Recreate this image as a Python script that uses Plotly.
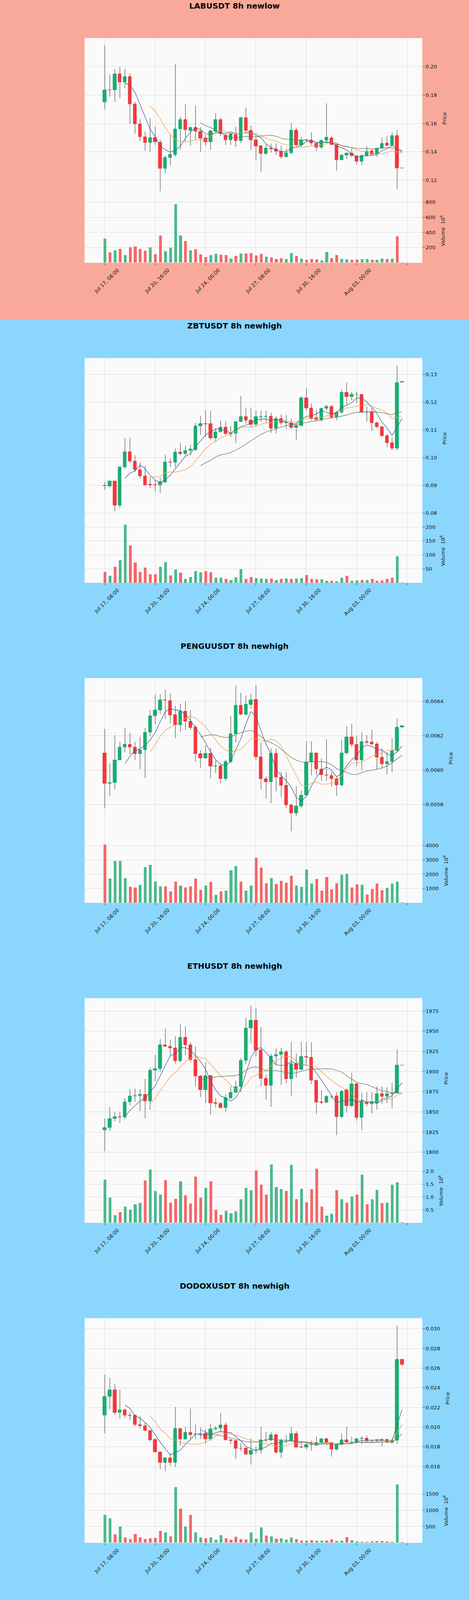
import plotly.graph_objects as go
import pandas as pd

# ---------------- data ----------------
x_tick_pos = [0, 10, 20, 30, 40, 50]
x_tick_labels = ["Jul 17, 08:00", "Jul 20, 16:00", "Jul 24, 00:00", "Jul 27, 08:00",
                 "Jul 30, 16:00", "Aug 03, 00:00"]
x_extra_tick = [60]

titles = ["LABUSDT 8h newlow", "ZBTUSDT 8h newhigh", "PENGUUSDT 8h newhigh",
          "ETHUSDT 8h newhigh", "DODOXUSDT 8h newhigh"]

lab_open = [0.1750, 0.1836, 0.1835, 0.1948, 0.1890, 0.1928, 0.1737, 0.1596, 0.1504, 0.1463,
            0.1500, 0.1467, 0.1283, 0.1359, 0.1378, 0.1559, 0.1626, 0.1550, 0.1570, 0.1543,
            0.1496, 0.1470, 0.1543, 0.1626, 0.1517, 0.1484, 0.1522, 0.1478, 0.1641, 0.1548,
            0.1482, 0.1442, 0.1387, 0.1425, 0.1419, 0.1404, 0.1364, 0.1393, 0.1552, 0.1447,
            0.1484, 0.1479, 0.1458, 0.1431, 0.1479, 0.1496, 0.1449, 0.1343, 0.1375, 0.1390,
            0.1369, 0.1332, 0.1373, 0.1407, 0.1381, 0.1425, 0.1462, 0.1445, 0.1512, 0.1286]
lab_high = [0.2150, 0.1943, 0.1983, 0.2000, 0.1985, 0.1952, 0.1752, 0.1630, 0.1543, 0.1639,
            0.1578, 0.1487, 0.1374, 0.1517, 0.2017, 0.1648, 0.1735, 0.1574, 0.1726, 0.1574,
            0.1517, 0.1557, 0.1672, 0.1643, 0.1526, 0.1530, 0.1578, 0.1648, 0.1712, 0.1585,
            0.1505, 0.1446, 0.1453, 0.1460, 0.1460, 0.1442, 0.1421, 0.1604, 0.1572, 0.1505,
            0.1492, 0.1537, 0.1462, 0.1486, 0.1742, 0.1511, 0.1449, 0.1384, 0.1397, 0.1423,
            0.1379, 0.1384, 0.1440, 0.1421, 0.1425, 0.1500, 0.1512, 0.1537, 0.1553, 0.1287]
lab_low = [0.1700, 0.1789, 0.1752, 0.1778, 0.1848, 0.1596, 0.1528, 0.1474, 0.1409, 0.1400,
           0.1448, 0.1122, 0.1248, 0.1304, 0.1368, 0.1417, 0.1474, 0.1443, 0.1483, 0.1400,
           0.1443, 0.1413, 0.1530, 0.1509, 0.1448, 0.1448, 0.1435, 0.1461, 0.1539, 0.1410,
           0.1341, 0.1259, 0.1379, 0.1395, 0.1377, 0.1352, 0.1360, 0.1380, 0.1437, 0.1433,
           0.1474, 0.1447, 0.1404, 0.1422, 0.1462, 0.1445, 0.1267, 0.1341, 0.1349, 0.1362,
           0.1314, 0.1307, 0.1364, 0.1378, 0.1364, 0.1421, 0.1442, 0.1445, 0.1138, 0.1285]
lab_close = [0.1835, 0.1834, 0.1948, 0.1890, 0.1928, 0.1737, 0.1596, 0.1504, 0.1463, 0.1500,
             0.1470, 0.1281, 0.1359, 0.1380, 0.1559, 0.1626, 0.1554, 0.1571, 0.1543, 0.1493,
             0.1470, 0.1545, 0.1626, 0.1526, 0.1484, 0.1526, 0.1478, 0.1641, 0.1548, 0.1482,
             0.1440, 0.1387, 0.1425, 0.1421, 0.1404, 0.1364, 0.1393, 0.1552, 0.1447, 0.1483,
             0.1482, 0.1462, 0.1430, 0.1479, 0.1501, 0.1449, 0.1343, 0.1375, 0.1390, 0.1373,
             0.1332, 0.1373, 0.1404, 0.1381, 0.1425, 0.1459, 0.1445, 0.1512, 0.1286, 0.1286]
lab_volume = [316, 135, 162, 181, 100, 203, 211, 181, 154, 203,
              108, 359, 149, 197, 768, 356, 283, 162, 176, 108,
              76, 100, 114, 103, 100, 55, 87, 122, 122, 127,
              95, 117, 81, 68, 47, 60, 47, 127, 90, 55,
              36, 49, 41, 28, 143, 60, 100, 47, 41, 36,
              41, 49, 47, 36, 36, 55, 47, 55, 345, 2]

zbt_open = [0.0899, 0.0896, 0.0915, 0.0828, 0.0966, 0.1021, 0.0987, 0.0956, 0.0933, 0.0903,
            0.0902, 0.0900, 0.0911, 0.0984, 0.0982, 0.1019, 0.1013, 0.1024, 0.1028, 0.1113,
            0.1122, 0.1122, 0.1070, 0.1092, 0.1109, 0.1084, 0.1086, 0.1129, 0.1147, 0.1134,
            0.1119, 0.1146, 0.1147, 0.1149, 0.1105, 0.1140, 0.1124, 0.1125, 0.1107, 0.1114,
            0.1215, 0.1178, 0.1143, 0.1136, 0.1177, 0.1183, 0.1146, 0.1162, 0.1234, 0.1219,
            0.1227, 0.1228, 0.1163, 0.1164, 0.1124, 0.1111, 0.1078, 0.1052, 0.1033, 0.1271]
zbt_high = [0.0912, 0.0917, 0.0917, 0.0968, 0.1070, 0.1072, 0.1008, 0.0982, 0.0969, 0.0929,
            0.0920, 0.0927, 0.1010, 0.0997, 0.1033, 0.1052, 0.1043, 0.1046, 0.1125, 0.1150,
            0.1171, 0.1167, 0.1103, 0.1133, 0.1131, 0.1114, 0.1129, 0.1222, 0.1180, 0.1180,
            0.1169, 0.1169, 0.1169, 0.1162, 0.1149, 0.1156, 0.1153, 0.1140, 0.1121, 0.1221,
            0.1251, 0.1195, 0.1173, 0.1180, 0.1191, 0.1188, 0.1168, 0.1247, 0.1271, 0.1238,
            0.1238, 0.1228, 0.1184, 0.1177, 0.1129, 0.1113, 0.1085, 0.1074, 0.1332, 0.1275]
zbt_low = [0.0883, 0.0891, 0.0806, 0.0818, 0.0958, 0.0980, 0.0948, 0.0924, 0.0899, 0.0890,
           0.0878, 0.0872, 0.0909, 0.0966, 0.0964, 0.1008, 0.1008, 0.1008, 0.1024, 0.1081,
           0.1074, 0.1063, 0.1056, 0.1090, 0.1083, 0.1074, 0.1052, 0.1129, 0.1122, 0.1110,
           0.1114, 0.1129, 0.1127, 0.1089, 0.1087, 0.1119, 0.1103, 0.1103, 0.1063, 0.1110,
           0.1169, 0.1134, 0.1131, 0.1129, 0.1169, 0.1140, 0.1134, 0.1158, 0.1191, 0.1206,
           0.1195, 0.1160, 0.1129, 0.1096, 0.1105, 0.1074, 0.1037, 0.1026, 0.1026, 0.1270]
zbt_close = [0.0898, 0.0915, 0.0828, 0.0966, 0.1021, 0.0987, 0.0956, 0.0933, 0.0901, 0.0901,
             0.0900, 0.0912, 0.0984, 0.0982, 0.1019, 0.1013, 0.1024, 0.1030, 0.1113, 0.1122,
             0.1121, 0.1070, 0.1092, 0.1109, 0.1085, 0.1086, 0.1129, 0.1147, 0.1134, 0.1119,
             0.1147, 0.1147, 0.1148, 0.1105, 0.1140, 0.1124, 0.1127, 0.1107, 0.1114, 0.1215,
             0.1178, 0.1141, 0.1136, 0.1177, 0.1183, 0.1146, 0.1162, 0.1234, 0.1219, 0.1228,
             0.1228, 0.1162, 0.1164, 0.1124, 0.1111, 0.1078, 0.1052, 0.1033, 0.1270, 0.1274]
zbt_volume = [40, 26, 58, 82, 209, 135, 73, 40, 55, 32,
              31, 58, 75, 27, 48, 37, 15, 22, 42, 39,
              42, 39, 19, 19, 15, 11, 20, 50, 15, 22,
              17, 16, 15, 16, 10, 15, 16, 15, 16, 17,
              28, 15, 13, 13, 8, 8, 6, 19, 26, 8,
              9, 11, 10, 15, 8, 9, 15, 19, 95, 1]

pengu_open = [0.006100, 0.005922, 0.005926, 0.006059, 0.006133, 0.006149, 0.006133, 0.006094, 0.006117, 0.006220,
              0.006314, 0.006349, 0.006409, 0.006404, 0.006321, 0.006263, 0.006342, 0.006284, 0.006250, 0.006094,
              0.006070, 0.006096, 0.006021, 0.006025, 0.005948, 0.006049, 0.006210, 0.006377, 0.006325, 0.006381,
              0.006410, 0.006077, 0.005950, 0.005930, 0.006096, 0.005957, 0.005910, 0.005796, 0.005748, 0.005789,
              0.005854, 0.006047, 0.006100, 0.006006, 0.005972, 0.005967, 0.005950, 0.005913, 0.006100, 0.006193,
              0.006150, 0.006059, 0.006165, 0.006162, 0.006151, 0.006073, 0.006036, 0.006050, 0.006113, 0.006250]
pengu_high = [0.006241, 0.006040, 0.006203, 0.006164, 0.006247, 0.006216, 0.006164, 0.006194, 0.006246, 0.006350,
              0.006439, 0.006443, 0.006469, 0.006447, 0.006374, 0.006387, 0.006400, 0.006350, 0.006263, 0.006117,
              0.006143, 0.006130, 0.006057, 0.006040, 0.006061, 0.006314, 0.006493, 0.006451, 0.006434, 0.006447,
              0.006493, 0.006160, 0.005963, 0.006126, 0.006126, 0.005989, 0.005989, 0.005804, 0.005907, 0.005881,
              0.006169, 0.006169, 0.006104, 0.006070, 0.006180, 0.005989, 0.005963, 0.006177, 0.006254, 0.006271,
              0.006199, 0.006220, 0.006203, 0.006235, 0.006164, 0.006126, 0.006104, 0.006187, 0.006301, 0.006260]
pengu_low = [0.005778, 0.005851, 0.005890, 0.006057, 0.006104, 0.006091, 0.006059, 0.006006, 0.005954, 0.006199,
             0.006267, 0.006327, 0.006297, 0.006271, 0.006186, 0.006224, 0.006235, 0.006235, 0.006049, 0.006014,
             0.006066, 0.005954, 0.005984, 0.005922, 0.005937, 0.006040, 0.006160, 0.006319, 0.006318, 0.006357,
             0.006057, 0.005886, 0.005834, 0.005808, 0.005877, 0.005843, 0.005778, 0.005644, 0.005731, 0.005778,
             0.005851, 0.005971, 0.005971, 0.005937, 0.005937, 0.005903, 0.005851, 0.005903, 0.006091, 0.006134,
             0.006023, 0.006001, 0.006151, 0.006143, 0.006006, 0.006010, 0.005976, 0.005989, 0.006104, 0.006248]
pengu_close = [0.005922, 0.005926, 0.006059, 0.006133, 0.006149, 0.006133, 0.006094, 0.006117, 0.006220, 0.006314,
               0.006349, 0.006409, 0.006405, 0.006319, 0.006263, 0.006342, 0.006284, 0.006247, 0.006094, 0.006070,
               0.006096, 0.006021, 0.006023, 0.005948, 0.006049, 0.006210, 0.006377, 0.006325, 0.006383, 0.006409,
               0.006077, 0.005950, 0.005930, 0.006096, 0.005957, 0.005910, 0.005796, 0.005748, 0.005789, 0.005854,
               0.006047, 0.006100, 0.006006, 0.005971, 0.005970, 0.005950, 0.005913, 0.006100, 0.006193, 0.006150,
               0.006059, 0.006164, 0.006161, 0.006151, 0.006073, 0.006036, 0.006050, 0.006113, 0.006250, 0.006257]
pengu_volume = [4080, 1703, 2938, 2938, 1734, 1122, 1071, 1275, 2499, 2672,
                1479, 1153, 1153, 796, 1479, 1204, 1071, 1153, 1714, 918,
                1204, 1459, 561, 816, 847, 2264, 2570, 1479, 867, 1224,
                3162, 2468, 1377, 1734, 1326, 1530, 1397, 1887, 1204, 1122,
                2326, 1357, 1683, 867, 1816, 949, 1377, 1969, 2040, 1071,
                1306, 1255, 592, 969, 1357, 887, 1040, 1357, 1499, 20]

eth_open = [1827.4, 1830.1, 1841.3, 1843.7, 1843.5, 1862.1, 1869.5, 1870.2, 1871.6, 1863.2,
            1901.5, 1903.6, 1933.1, 1930.9, 1929.1, 1913.2, 1942.1, 1933.1, 1914.7, 1894.3,
            1877.1, 1894.6, 1861.2, 1860.5, 1854.9, 1867.2, 1873.8, 1881.1, 1913.6, 1953.9,
            1963.4, 1926.8, 1891.5, 1882.5, 1919.0, 1920.8, 1924.4, 1891.0, 1909.6, 1902.4,
            1918.3, 1917.2, 1888.8, 1862.0, 1861.7, 1869.0, 1869.5, 1844.0, 1877.1, 1857.6,
            1884.3, 1843.1, 1862.4, 1859.9, 1861.0, 1872.3, 1869.0, 1872.2, 1873.5, 1907.8]
eth_high = [1841.9, 1856.3, 1850.0, 1850.0, 1867.2, 1878.0, 1878.9, 1878.0, 1891.0, 1905.1,
            1920.4, 1940.3, 1953.0, 1939.4, 1943.9, 1958.4, 1956.0, 1936.7, 1931.3, 1896.1,
            1911.4, 1896.1, 1867.2, 1861.9, 1871.7, 1881.6, 1888.8, 1916.8, 1966.5, 1981.9,
            1978.3, 1954.8, 1896.1, 1922.3, 1928.6, 1929.5, 1926.8, 1936.7, 1922.3, 1936.7,
            1936.7, 1936.3, 1888.8, 1877.1, 1870.8, 1870.8, 1874.4, 1877.1, 1878.9, 1898.8,
            1886.1, 1873.5, 1874.4, 1874.4, 1881.6, 1881.6, 1880.7, 1886.1, 1927.7, 1908.0]
eth_low = [1801.2, 1826.5, 1838.3, 1836.5, 1841.0, 1858.1, 1862.6, 1850.9, 1841.9, 1852.7,
           1887.9, 1899.7, 1930.4, 1920.4, 1909.6, 1911.4, 1920.4, 1911.4, 1881.6, 1868.1,
           1860.8, 1846.4, 1855.4, 1853.6, 1850.0, 1866.3, 1873.5, 1874.4, 1909.6, 1934.9,
           1918.6, 1881.6, 1865.4, 1856.3, 1907.8, 1883.4, 1885.2, 1869.9, 1892.4, 1901.5,
           1907.8, 1884.3, 1847.3, 1859.9, 1860.8, 1866.3, 1821.1, 1841.9, 1849.1, 1855.4,
           1839.2, 1827.4, 1857.2, 1848.2, 1852.7, 1859.9, 1860.8, 1854.5, 1872.6, 1907.4]
eth_close = [1830.1, 1841.3, 1843.7, 1843.5, 1862.1, 1869.5, 1870.2, 1871.3, 1863.2, 1901.5,
             1903.6, 1933.1, 1930.9, 1929.1, 1913.2, 1942.1, 1933.1, 1914.7, 1894.3, 1877.1,
             1894.6, 1860.8, 1860.4, 1854.9, 1867.2, 1873.8, 1881.1, 1913.6, 1953.9, 1963.4,
             1926.2, 1891.5, 1882.5, 1919.0, 1920.8, 1924.4, 1891.0, 1909.6, 1902.4, 1918.3,
             1917.2, 1888.8, 1861.7, 1861.5, 1869.0, 1869.2, 1844.0, 1875.3, 1857.6, 1884.7,
             1843.1, 1863.5, 1859.9, 1862.6, 1872.6, 1869.0, 1872.2, 1873.5, 1907.8, 1907.6]
eth_volume = [1.67, 0.97, 0.30, 0.42, 0.63, 0.50, 0.71, 0.78, 1.64, 2.07,
              1.23, 1.10, 1.65, 0.78, 0.93, 1.61, 1.06, 0.75, 1.79, 0.98,
              1.35, 1.61, 0.51, 0.31, 0.46, 0.37, 0.44, 0.92, 1.35, 1.26,
              2.03, 1.47, 1.10, 2.26, 1.38, 1.31, 1.23, 2.24, 0.92, 1.32,
              0.80, 1.30, 2.10, 0.62, 0.28, 0.35, 1.26, 0.92, 0.78, 1.02,
              1.10, 1.86, 0.72, 0.92, 1.27, 0.76, 0.78, 1.47, 1.56, 0.01]

dodox_open = [0.02118, 0.02312, 0.02379, 0.02148, 0.02177, 0.02118, 0.02118, 0.02023, 0.02014, 0.01964,
              0.01875, 0.01747, 0.01640, 0.01688, 0.01640, 0.01986, 0.01878, 0.01944, 0.01929, 0.01930,
              0.01937, 0.01878, 0.01979, 0.01989, 0.02019, 0.01870, 0.01860, 0.01782, 0.01784, 0.01722,
              0.01762, 0.01767, 0.01870, 0.01867, 0.01919, 0.01741, 0.01860, 0.01866, 0.01934, 0.01796,
              0.01792, 0.01822, 0.01820, 0.01841, 0.01881, 0.01841, 0.01774, 0.01821, 0.01870, 0.01845,
              0.01845, 0.01881, 0.01885, 0.01860, 0.01870, 0.01860, 0.01875, 0.01845, 0.01866, 0.02686]
dodox_high = [0.02533, 0.02503, 0.02441, 0.02382, 0.02189, 0.02152, 0.02122, 0.02115, 0.02041, 0.01967,
              0.01885, 0.01752, 0.01692, 0.01732, 0.02204, 0.01989, 0.02004, 0.02189, 0.02026, 0.01996,
              0.01981, 0.02033, 0.02011, 0.02145, 0.02048, 0.01878, 0.01870, 0.01836, 0.01789, 0.01885,
              0.01804, 0.02004, 0.01952, 0.01952, 0.01930, 0.01885, 0.01922, 0.02004, 0.01959, 0.01848,
              0.01833, 0.01863, 0.01904, 0.01885, 0.01885, 0.01848, 0.01833, 0.01934, 0.02004, 0.01904,
              0.01885, 0.01907, 0.01915, 0.01870, 0.01878, 0.01885, 0.01881, 0.01885, 0.03034, 0.02693]
dodox_low = [0.01937, 0.02182, 0.02122, 0.02085, 0.02093, 0.02073, 0.02011, 0.01989, 0.01959, 0.01855,
             0.01744, 0.01574, 0.01551, 0.01611, 0.01596, 0.01811, 0.01870, 0.01878, 0.01878, 0.01878,
             0.01833, 0.01860, 0.01967, 0.01952, 0.01863, 0.01826, 0.01677, 0.01756, 0.01715, 0.01618,
             0.01730, 0.01730, 0.01848, 0.01863, 0.01730, 0.01685, 0.01833, 0.01855, 0.01789, 0.01789,
             0.01774, 0.01759, 0.01811, 0.01833, 0.01818, 0.01700, 0.01759, 0.01811, 0.01841, 0.01841,
             0.01833, 0.01826, 0.01841, 0.01852, 0.01845, 0.01804, 0.01841, 0.01833, 0.01833, 0.02619]
dodox_close = [0.02312, 0.02379, 0.02148, 0.02177, 0.02118, 0.02117, 0.02023, 0.02014, 0.01964, 0.01870,
               0.01747, 0.01640, 0.01688, 0.01640, 0.01986, 0.01878, 0.01944, 0.01922, 0.01930, 0.01934,
               0.01878, 0.01979, 0.01989, 0.02019, 0.01870, 0.01860, 0.01781, 0.01780, 0.01722, 0.01762,
               0.01766, 0.01870, 0.01867, 0.01919, 0.01741, 0.01860, 0.01866, 0.01934, 0.01792, 0.01794,
               0.01821, 0.01820, 0.01841, 0.01881, 0.01841, 0.01774, 0.01821, 0.01870, 0.01845, 0.01847,
               0.01881, 0.01885, 0.01860, 0.01867, 0.01860, 0.01875, 0.01845, 0.01866, 0.02686, 0.02634]
dodox_volume = [852, 749, 256, 502, 157, 108, 269, 166, 108, 135,
                152, 368, 314, 202, 1704, 1049, 502, 861, 323, 157,
                135, 157, 85, 233, 135, 85, 188, 112, 99, 323,
                130, 471, 220, 197, 121, 135, 99, 166, 112, 67,
                67, 76, 67, 63, 63, 99, 54, 67, 179, 76,
                45, 31, 31, 40, 49, 54, 45, 31, 1794, 22]

price_ticks = [[0.12, 0.14, 0.16, 0.18, 0.20],
               [0.08, 0.09, 0.10, 0.11, 0.12, 0.13],
               [0.0058, 0.0060, 0.0062, 0.0064],
               [1800, 1825, 1850, 1875, 1900, 1925, 1950, 1975],
               [0.016, 0.018, 0.020, 0.022, 0.024, 0.026, 0.028, 0.030]]
price_decimals = [2, 2, 4, 0, 3]
volume_ticks = [[200, 400, 600, 800],
                [50, 100, 150, 200],
                [1000, 2000, 3000, 4000],
                [0.5, 1.0, 1.5, 2.0],
                [500, 1000, 1500]]
volume_decimals = [0, 0, 0, 1, 0]
mav_periods = [5, 10, 20]

# ---------------- styling ----------------
W, H = 1200, 4310
PH = 862
BOX_TOP, SPLIT, BOX_BOT = 102.7, 535.0, 708.0
XL, XR = 216.5 / W, 1080.5 / W
panel_bg = ["#f9a99a", "#8bd6fd", "#8bd6fd", "#8bd6fd", "#8bd6fd"]
UP, DOWN = "#17ad70", "#f2383c"
VUP, VDOWN = "#4db98d", "#f46868"
WICK = "#2a2a2a"
MA_COLORS = ["#3a5c92", "#f29a50", "#5e7a62"]
GRID = "#dadada"
TXT = "#141414"
FONT = "DejaVu Sans"

data = [
    (lab_open, lab_high, lab_low, lab_close, lab_volume),
    (zbt_open, zbt_high, zbt_low, zbt_close, zbt_volume),
    (pengu_open, pengu_high, pengu_low, pengu_close, pengu_volume),
    (eth_open, eth_high, eth_low, eth_close, eth_volume),
    (dodox_open, dodox_high, dodox_low, dodox_close, dodox_volume),
]


def py(px):
    return 1 - px / H


fig = go.Figure()
layout = {}
shapes = []
annotations = []

for k, (o, hi, lo, c, v) in enumerate(data):
    n = len(c)
    idx = list(range(n))
    top = PH * k
    pa, va = 2 * k + 1, 2 * k + 2
    xp, yp = f"x{pa}", f"y{pa}"
    xv, yv = f"x{va}", f"y{va}"

    shapes.append(dict(type="rect", xref="paper", yref="paper", x0=0, x1=1,
                       y0=py(top + PH), y1=py(top), fillcolor=panel_bg[k],
                       line=dict(width=0), layer="below"))
    shapes.append(dict(type="rect", xref="paper", yref="paper", x0=XL, x1=XR,
                       y0=py(top + BOX_BOT), y1=py(top + BOX_TOP), fillcolor="#fafafa",
                       line=dict(width=0), layer="below"))

    up = [c[i] >= o[i] for i in idx]

    wx, wy = [], []
    for i in idx:
        btop, bbot = max(o[i], c[i]), min(o[i], c[i])
        wx += [i, i, None, i, i, None]
        wy += [bbot, lo[i], None, hi[i], btop, None]
    fig.add_trace(go.Scatter(x=wx, y=wy, mode="lines", line=dict(color=WICK, width=1),
                             xaxis=xp, yaxis=yp, hoverinfo="skip", showlegend=False))

    cols = [UP if u else DOWN for u in up]
    fig.add_trace(go.Bar(x=idx, y=[abs(c[i] - o[i]) for i in idx],
                         base=[min(o[i], c[i]) for i in idx], width=0.64,
                         marker=dict(color=cols, line=dict(color=cols, width=1)),
                         xaxis=xp, yaxis=yp, showlegend=False, hoverinfo="skip"))

    cs = pd.Series(c)
    for per, col in zip(mav_periods, MA_COLORS):
        ma = cs.rolling(per).mean()
        fig.add_trace(go.Scatter(x=idx, y=ma, mode="lines", line=dict(color=col, width=1.3),
                                 xaxis=xp, yaxis=yp, hoverinfo="skip", showlegend=False,
                                 connectgaps=False))

    vcols = [VUP if u else VDOWN for u in up]
    fig.add_trace(go.Bar(x=idx, y=v, width=0.55, marker=dict(color=vcols, line=dict(width=0)),
                         xaxis=xv, yaxis=yv, showlegend=False, hoverinfo="skip"))

    d = max(hi) - min(lo)
    prange = [min(lo) - 0.05 * d, max(hi) + 0.05 * d]
    vrange = [0, 1.1 * max(v)]

    pdom = [py(top + SPLIT), py(top + BOX_TOP)]
    vdom = [py(top + BOX_BOT), py(top + SPLIT)]

    common_x = dict(range=[-4.0, 63.0], tickmode="array", tickvals=x_tick_pos, showgrid=True,
                    gridcolor=GRID, gridwidth=1.2, zeroline=False, showline=False,
                    fixedrange=True)
    layout[f"xaxis{pa}"] = dict(common_x, domain=[XL, XR], anchor=yp, showticklabels=False,
                                ticks="",
                                minor=dict(tickmode="array", tickvals=x_extra_tick, ticks="",
                                           showgrid=True, gridcolor=GRID, gridwidth=1.2))
    layout[f"xaxis{va}"] = dict(common_x, domain=[XL, XR], anchor=yv, ticktext=x_tick_labels,
                                ticks="outside", ticklen=5, tickcolor="#333", tickangle=-45,
                                ticklabelshift=33, tickfont=dict(size=13, color=TXT),
                                minor=dict(tickmode="array", tickvals=x_extra_tick,
                                           ticks="outside", ticklen=5, tickcolor="#333",
                                           showgrid=True, gridcolor=GRID, gridwidth=1.2))

    ptxt = [f"{t:.{price_decimals[k]}f}" for t in price_ticks[k]]
    vtxt = [f"{t:.{volume_decimals[k]}f}" for t in volume_ticks[k]]
    common_y = dict(side="right", showgrid=True, gridcolor=GRID, gridwidth=1.2, zeroline=False,
                    showline=False, ticks="outside", ticklen=5, tickcolor="#333",
                    tickfont=dict(size=13, color=TXT), fixedrange=True, tickmode="array")
    layout[f"yaxis{pa}"] = dict(common_y, domain=pdom, anchor=xp, range=prange,
                                tickvals=price_ticks[k], ticktext=ptxt,
                                title=dict(text="Price", font=dict(size=13, color=TXT)))
    layout[f"yaxis{va}"] = dict(common_y, domain=vdom, anchor=xv, range=vrange,
                                tickvals=volume_ticks[k], ticktext=vtxt,
                                title=dict(text="Volume  10<sup>6</sup>",
                                           font=dict(size=13, color=TXT)))

    annotations.append(dict(text=f"<b>{titles[k]}</b>", xref="paper", yref="paper", x=0.5,
                            y=py(top + 16), xanchor="center", yanchor="middle", showarrow=False,
                            font=dict(family=FONT, size=20, color="#000")))

layout = {("xaxis" if key == "xaxis1" else "yaxis" if key == "yaxis1" else key): val
          for key, val in layout.items()}

fig.update_layout(**layout)
fig.update_layout(width=W, height=H, margin=dict(l=0, r=0, t=0, b=0),
                  paper_bgcolor="#8bd6fd", plot_bgcolor="rgba(0,0,0,0)",
                  font=dict(family=FONT, size=13, color=TXT),
                  shapes=shapes, annotations=annotations, showlegend=False,
                  bargap=0)

post_js = """
document.body.style.margin = '0px';
document.body.style.overflow = 'hidden';
var gd = document.getElementById('{plot_id}');
var vh = window.innerHeight;
if (vh && vh > 500 && vh < 4300) { Plotly.relayout(gd, {height: vh}); }
"""

fig.write_html("out.html", config={"displayModeBar": False}, post_script=post_js)
